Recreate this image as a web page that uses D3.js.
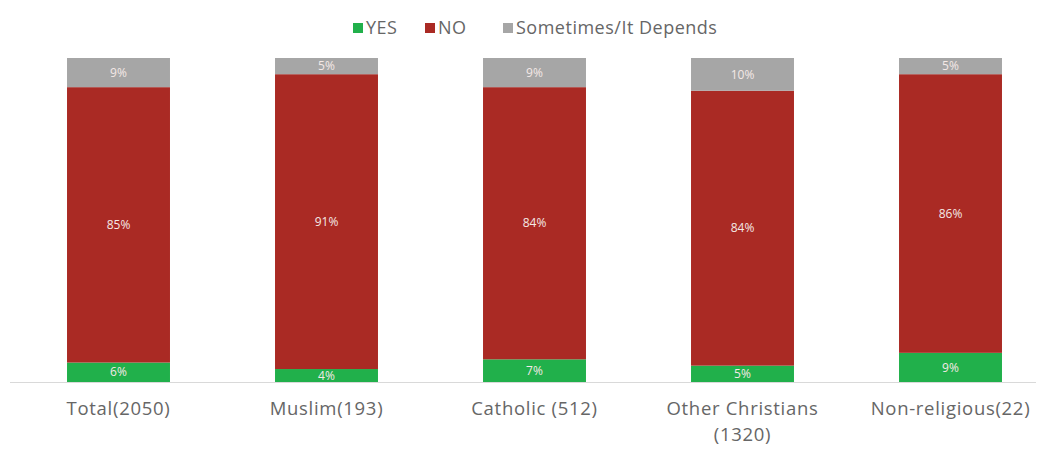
<!DOCTYPE html>
<html>
<head>
<meta charset="utf-8">
<script src="https://cdn.jsdelivr.net/npm/d3@7"></script>
<style>
  html, body { margin: 0; padding: 0; background: #fff; }
  svg { display: block; font-family: "Open Sans", "Liberation Sans", sans-serif; }
</style>
</head>
<body>
<svg id="chart" width="1046" height="450"></svg>
<script>
// Survey groups (sample size in brackets)
const categories = ["Total(2050)", "Muslim(193)", "Catholic (512)", "Other Christians (1320)", "Non-religious(22)"];
const seriesNames = ["YES", "NO", "Sometimes/It Depends"];
const yesValues = [6, 4, 7, 5, 9];
const noValues = [85, 91, 84, 84, 86];
const dependsValues = [9, 5, 9, 10, 5];
const seriesColors = ["#21B04B", "#AA2A24", "#A6A6A6"];

const svg = d3.select("#chart");
const plotTop = 58, plotBottom = 382;

const rows = categories.map((c, i) => ({
  cat: c,
  "YES": yesValues[i],
  "NO": noValues[i],
  "Sometimes/It Depends": dependsValues[i]
}));

// 100% stacked columns
const stack = d3.stack().keys(seriesNames).offset(d3.stackOffsetExpand);
const layers = stack(rows);

const x = d3.scaleBand()
  .domain(categories)
  .range([14.5, 1054.5])
  .paddingInner(0.505)
  .paddingOuter(0.2525);

const y = d3.scaleLinear().domain([0, 1]).range([plotBottom, plotTop]);
const color = d3.scaleOrdinal().domain(seriesNames).range(seriesColors);

const layerG = svg.selectAll("g.layer")
  .data(layers)
  .join("g")
  .attr("class", "layer")
  .attr("fill", d => color(d.key));

layerG.selectAll("rect")
  .data(d => d.map(p => Object.assign(p, { key: d.key })))
  .join("rect")
  .attr("x", d => x(d.data.cat))
  .attr("width", x.bandwidth())
  .attr("y", d => y(d[1]))
  .attr("height", d => y(d[0]) - y(d[1]));

// value labels inside each segment
layerG.selectAll("text")
  .data(d => d)
  .join("text")
  .attr("x", d => x(d.data.cat) + x.bandwidth() / 2)
  .attr("y", d => (y(d[0]) + y(d[1])) / 2)
  .attr("dy", "0.35em")
  .attr("text-anchor", "middle")
  .attr("fill", "#F4E9E6")
  .attr("font-size", 12)
  .text(d => d.data[d.key] + "%");

// baseline
svg.append("line")
  .attr("x1", 10).attr("x2", 1036)
  .attr("y1", plotBottom + 0.5).attr("y2", plotBottom + 0.5)
  .attr("stroke", "#D9D9D9").attr("stroke-width", 1);

// category axis without ticks
const xAxis = svg.append("g")
  .attr("transform", `translate(0,${plotBottom})`)
  .call(d3.axisBottom(x).tickSize(0).tickPadding(20));
xAxis.select(".domain").remove();
xAxis.selectAll("text")
  .attr("font-size", 18.5)
  .attr("letter-spacing", "0.7px")
  .attr("fill", "#666666")
  .attr("font-family", "\"Open Sans\", \"Liberation Sans\", sans-serif")
  .each(function(d) {
    const t = d3.select(this);
    if (d === "Other Christians (1320)") {
      t.text(null);
      t.append("tspan").attr("x", 0).text("Other Christians");
      t.append("tspan").attr("x", 0).attr("dy", "1.4em").text("(1320)");
    }
  });

// legend
const legend = svg.append("g").attr("transform", "translate(0,28)");
const legendItems = [
  { name: seriesNames[0], x: 353 },
  { name: seriesNames[1], x: 425 },
  { name: seriesNames[2], x: 503 }
];
legendItems.forEach(it => {
  legend.append("rect")
    .attr("x", it.x).attr("y", -5)
    .attr("width", 10).attr("height", 10)
    .attr("fill", color(it.name));
  legend.append("text")
    .attr("x", it.x + 13).attr("y", 0)
    .attr("dy", "0.35em")
    .attr("font-size", 18)
    .attr("letter-spacing", "0.5px")
    .attr("fill", "#666666")
    .text(it.name);
});
</script>
</body>
</html>
